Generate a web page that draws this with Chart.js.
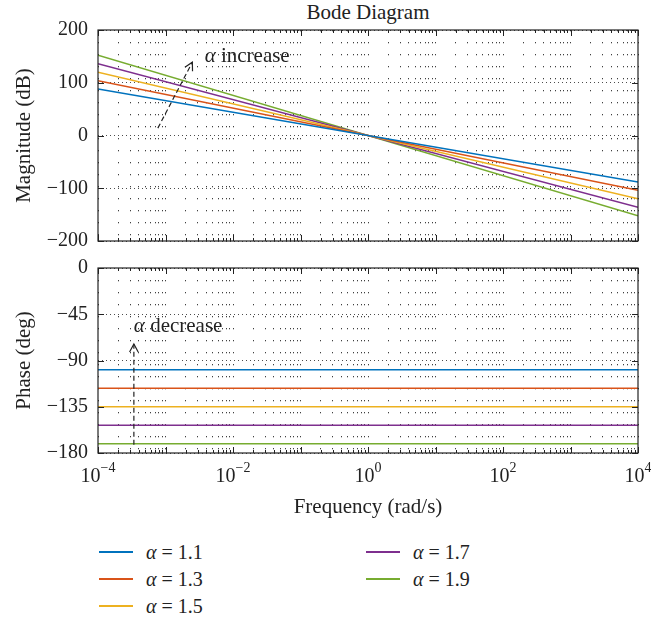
<!DOCTYPE html>
<html>
<head>
<meta charset="utf-8">
<script src="https://cdn.jsdelivr.net/npm/chart.js@4.4.0/dist/chart.umd.min.js"></script>
<style>
  body { margin: 0; background: #fff; width: 651px; height: 620px; position: relative; overflow: hidden;
         font-family: "Liberation Serif", "DejaVu Serif", serif; color: #222; }
  canvas { position: absolute; left: 0; }
  #magChart { top: 0; }
  #phaseChart { top: 246px; }
  .plot-title { position: absolute; left: 98px; width: 540px; top: 0; text-align: center; font-size: 21px; line-height: 24px; }
  .leg { position: absolute; height: 24px; font-size: 20px; line-height: 24px; white-space: nowrap; }
  .leg .ln { position: absolute; left: 0; top: 11px; width: 34px; height: 2px; }
  .leg .tx { position: absolute; left: 47px; top: 0; }
</style>
</head>
<body>
<div class="plot-title">Bode Diagram</div>
<canvas id="magChart" width="651" height="263"></canvas>
<canvas id="phaseChart" width="651" height="284"></canvas>
<div id="legend"></div>
<script>
const FONT = '"Liberation Serif", "DejaVu Serif", serif';

// data
const alphaLabels = ["1.1", "1.3", "1.5", "1.7", "1.9"];
const lineColors = ["#0072BD", "#D95319", "#EDB120", "#7E2F8E", "#77AC30"];
const freqEnds = [1e-4, 1e4];
const magAtStart = [88, 104, 120, 136, 152];
const magAtEnd = [-88, -104, -120, -136, -152];
const phaseVals = [-99, -117, -135, -153, -171];
const xLabelExps = [-4, -2, 0, 2, 4];

// annotation arrows (data coords)
const incArrow = [{ x: 7.7e-4, y: 14 }, { x: 2.5e-3, y: 139 }];
const incText = { x: 3.8e-3, y: 149 };
const decArrow = [{ x: 3.4e-4, y: -172 }, { x: 3.4e-4, y: -74 }];
const decText = { x: 3.4e-4, y: -57 };

// log grid: 1..9 per decade
const xGridVals = [];
for (let d = -4; d < 4; d++) for (let k = 1; k <= 9; k++) xGridVals.push(k * Math.pow(10, d));
xGridVals.push(1e4);

const isDecade = v => Math.abs(Math.log10(v) - Math.round(Math.log10(v))) < 1e-9;
const minus = s => String(s).replace('-', '\u2212');

const framePlugin = {
  id: 'frame',
  afterDraw(chart) {
    const { ctx, chartArea: a, scales } = chart;
    ctx.save();
    ctx.strokeStyle = '#222';
    ctx.lineWidth = 1.2;
    ctx.strokeRect(a.left, a.top, a.right - a.left, a.bottom - a.top);
    ctx.lineWidth = 1;
    ctx.beginPath();
    scales.x.ticks.forEach(t => {
      const px = Math.round(scales.x.getPixelForValue(t.value)) + 0.5;
      const len = isDecade(t.value) ? 6 : 3;
      ctx.moveTo(px, a.top); ctx.lineTo(px, a.top + len);
      ctx.moveTo(px, a.bottom); ctx.lineTo(px, a.bottom - len);
    });
    scales.y.ticks.forEach(t => {
      const py = Math.round(scales.y.getPixelForValue(t.value)) + 0.5;
      ctx.moveTo(a.left, py); ctx.lineTo(a.left + 6, py);
      ctx.moveTo(a.right, py); ctx.lineTo(a.right - 6, py);
    });
    ctx.stroke();
    ctx.restore();
  }
};

function drawArrow(ctx, p0, p1) {
  ctx.save();
  ctx.strokeStyle = '#222';
  ctx.lineWidth = 1.2;
  ctx.setLineDash([5, 3]);
  ctx.beginPath();
  ctx.moveTo(p0.x, p0.y); ctx.lineTo(p1.x, p1.y);
  ctx.stroke();
  ctx.setLineDash([]);
  const ang = Math.atan2(p1.y - p0.y, p1.x - p0.x);
  const h = 9;
  ctx.beginPath();
  ctx.moveTo(p1.x - h * Math.cos(ang - 0.5), p1.y - h * Math.sin(ang - 0.5));
  ctx.lineTo(p1.x, p1.y);
  ctx.lineTo(p1.x - h * Math.cos(ang + 0.5), p1.y - h * Math.sin(ang + 0.5));
  ctx.stroke();
  ctx.restore();
}

function drawAlphaText(ctx, x, y, word) {
  ctx.save();
  ctx.fillStyle = '#222';
  ctx.textBaseline = 'middle';
  ctx.textAlign = 'left';
  ctx.font = 'italic 21px ' + FONT;
  ctx.fillText('\u03B1', x, y);
  const w = ctx.measureText('\u03B1').width;
  ctx.font = '21px ' + FONT;
  ctx.fillText(' ' + word, x + w, y);
  ctx.restore();
}

function annotationPlugin(arrow, textPos, word) {
  return {
    id: 'notes',
    afterDatasetsDraw(chart) {
      const { ctx, scales: { x, y } } = chart;
      const pts = arrow.map(p => ({ x: x.getPixelForValue(p.x), y: y.getPixelForValue(p.y) }));
      drawArrow(ctx, pts[0], pts[1]);
      drawAlphaText(ctx, x.getPixelForValue(textPos.x), y.getPixelForValue(textPos.y), word);
    }
  };
}

const xLabelPlugin = {
  id: 'xlabels',
  afterDraw(chart) {
    const { ctx, scales: { x } } = chart;
    const base = chart.chartArea.bottom + 29;
    ctx.save();
    ctx.fillStyle = '#222';
    ctx.textBaseline = 'alphabetic';
    ctx.textAlign = 'left';
    xLabelExps.forEach(e => {
      const px = x.getPixelForValue(Math.pow(10, e));
      const sup = minus(e);
      ctx.font = '20px ' + FONT;
      const w1 = ctx.measureText('10').width;
      ctx.font = '14px ' + FONT;
      const w2 = ctx.measureText(sup).width;
      const left = px - (w1 + w2) / 2;
      ctx.font = '20px ' + FONT;
      ctx.fillText('10', left, base);
      ctx.font = '14px ' + FONT;
      ctx.fillText(sup, left + w1, base - 10);
    });
    ctx.restore();
  }
};

function xScale(showTitle) {
  return {
    type: 'logarithmic',
    min: 1e-4,
    max: 1e4,
    afterBuildTicks: s => { s.ticks = xGridVals.map(v => ({ value: v })); },
    afterFit: s => { s.height = showTitle ? 77 : 0; },
    ticks: { display: false },
    grid: { color: 'rgba(0,0,0,0.75)', lineWidth: 1, drawTicks: false },
    border: { display: false, dash: [1.3, 10.7] },
    title: {
      display: showTitle,
      text: 'Frequency (rad/s)',
      color: '#222',
      font: { family: FONT, size: 21 },
      padding: { top: 0, bottom: 10 }
    }
  };
}

function yScale(min, max, step, titleText) {
  return {
    min, max,
    ticks: {
      stepSize: step,
      padding: 10,
      color: '#222',
      font: { family: FONT, size: 20 },
      callback: v => minus(v)
    },
    afterFit: s => { s.width = 98; },
    grid: { color: 'rgba(0,0,0,0.7)', lineWidth: 1, drawTicks: false },
    border: { display: false, dash: [1, 3] },
    title: {
      display: true,
      text: titleText,
      color: '#222',
      font: { family: FONT, size: 21 },
      padding: { top: 12, bottom: 0 }
    }
  };
}

const baseOptions = {
  responsive: false,
  animation: false,
  events: [],
  plugins: { legend: { display: false }, tooltip: { enabled: false } },
  elements: { point: { radius: 0 }, line: { borderWidth: 1.5, tension: 0 } }
};

new Chart(document.getElementById('magChart').getContext('2d'), {
  type: 'line',
  data: {
    datasets: alphaLabels.map((a, i) => ({
      label: '\u03B1 = ' + a,
      data: [{ x: freqEnds[0], y: magAtStart[i] }, { x: freqEnds[1], y: magAtEnd[i] }],
      borderColor: lineColors[i],
      backgroundColor: lineColors[i]
    }))
  },
  options: {
    ...baseOptions,
    layout: { padding: { top: 30, right: 13, bottom: 22, left: 0 } },
    scales: { x: xScale(false), y: yScale(-200, 200, 100, 'Magnitude (dB)') }
  },
  plugins: [framePlugin, annotationPlugin(incArrow, incText, 'increase')]
});

new Chart(document.getElementById('phaseChart').getContext('2d'), {
  type: 'line',
  data: {
    datasets: alphaLabels.map((a, i) => ({
      label: '\u03B1 = ' + a,
      data: freqEnds.map(f => ({ x: f, y: phaseVals[i] })),
      borderColor: lineColors[i],
      backgroundColor: lineColors[i]
    }))
  },
  options: {
    ...baseOptions,
    layout: { padding: { top: 22, right: 13, bottom: 0, left: 0 } },
    scales: { x: xScale(true), y: yScale(-180, 0, 45, 'Phase (deg)') }
  },
  plugins: [framePlugin, xLabelPlugin, annotationPlugin(decArrow, decText, 'decrease')]
});

// legend, two columns: first three left, last two right
const legendEl = document.getElementById('legend');
alphaLabels.forEach((a, i) => {
  const col = i < 3 ? 0 : 1;
  const row = i < 3 ? i : i - 3;
  const item = document.createElement('div');
  item.className = 'leg';
  item.style.left = (col ? 366 : 99) + 'px';
  item.style.top = (540 + row * 27) + 'px';
  item.innerHTML = `<span class="ln" style="background:${lineColors[i]}"></span>` +
    `<span class="tx"><i>\u03B1</i> = ${a}</span>`;
  legendEl.appendChild(item);
});
</script>
</body>
</html>
